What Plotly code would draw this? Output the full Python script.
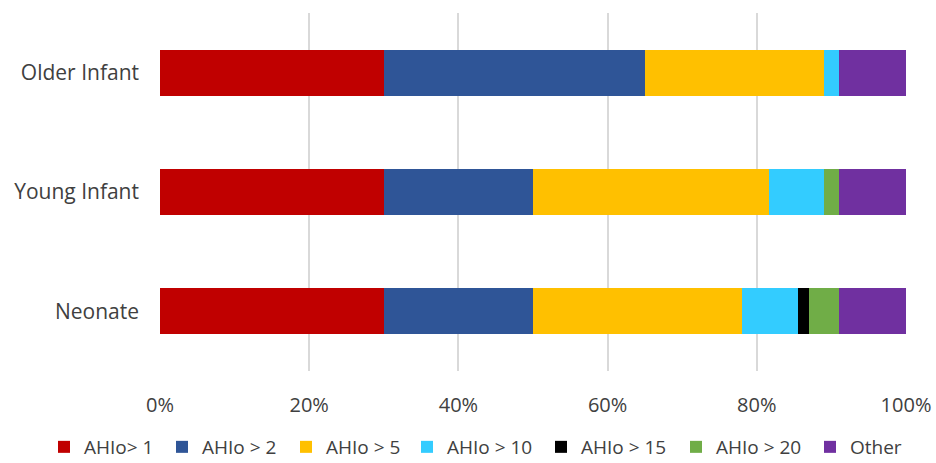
import plotly.graph_objects as go

categories = ["Neonate", "Young Infant", "Older Infant"]
series_names = ["AHIo> 1", "AHIo > 2", "AHIo > 5", "AHIo > 10", "AHIo > 15", "AHIo > 20", "Other"]
ahi1 = [30, 30, 30]
ahi2 = [20, 20, 35]
ahi5 = [28, 31.7, 24]
ahi10 = [7.5, 7.3, 2]
ahi15 = [1.5, 0, 0]
ahi20 = [4, 2, 0]
other = [9, 9, 9]
values = [ahi1, ahi2, ahi5, ahi10, ahi15, ahi20, other]
colors = ["#C00000", "#2F5597", "#FFC000", "#33CCFF", "#000000", "#70AD47", "#7030A0"]
tick_vals = [0, 20, 40, 60, 80, 100]
tick_text = ["0%", "20%", "40%", "60%", "80%", "100%"]

# legend entry positions (pixels from left), one legend per series
legend_x = [44, 162, 286, 407, 541, 676, 810]

W, H = 936, 463
font_family = "Open Sans, DejaVu Sans, sans-serif"
txt_color = "#404040"

fig = go.Figure()
legend_layouts = {}
for i, (name, vals, col) in enumerate(zip(series_names, values, colors)):
    lname = "legend" if i == 0 else f"legend{i + 1}"
    fig.add_trace(go.Bar(
        y=categories, x=vals, name=name, orientation="h",
        marker=dict(color=col, line=dict(width=0)),
        legend=lname,
    ))
    legend_layouts[lname] = dict(
        orientation="h", xref="container", yref="container",
        x=legend_x[i] / W, xanchor="left", y=1 - 447 / H, yanchor="middle",
        font=dict(size=19, color=txt_color, family=font_family),
        itemwidth=30, bgcolor="rgba(0,0,0,0)",
    )

fig.update_layout(
    barmode="stack",
    bargap=0.615,
    width=W, height=H,
    margin=dict(l=160, r=30, t=13, b=92, autoexpand=False),
    paper_bgcolor="white", plot_bgcolor="white",
    font=dict(family=font_family, size=20, color=txt_color),
    showlegend=True,
    xaxis=dict(range=[0, 100], tickvals=tick_vals, ticktext=tick_text,
               showgrid=True, gridcolor="#D9D9D9", gridwidth=1.5,
               zeroline=False, showline=False, ticklabelstandoff=20,
               tickfont=dict(size=20, color=txt_color)),
    yaxis=dict(showgrid=False, showline=False, ticks="", ticklabelstandoff=20,
               tickfont=dict(size=21, color=txt_color)),
    **legend_layouts,
)

fig.write_html("out.html")
